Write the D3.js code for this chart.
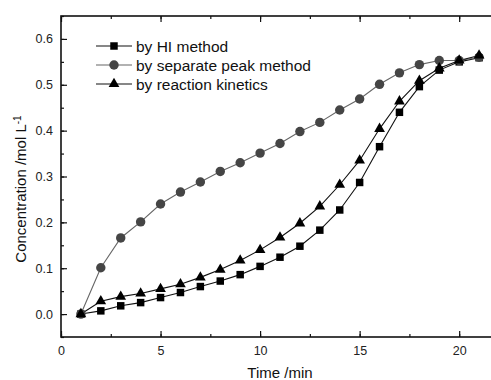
<!DOCTYPE html>
<html>
<head>
<meta charset="utf-8">
<script src="https://cdn.jsdelivr.net/npm/d3@7"></script>
<style>
  body { margin: 0; background: #fff; }
  svg { display: block; font-family: Arial, "Liberation Sans", sans-serif; }
</style>
</head>
<body>
<svg class="chart" width="491" height="380"></svg>
<script>
// time (min)
const times = [1, 2, 3, 4, 5, 6, 7, 8, 9, 10, 11, 12, 13, 14, 15, 16, 17, 18, 19, 20, 21];
// by HI method (squares)
const hiMethod = [0, 0.007, 0.018, 0.025, 0.036, 0.047, 0.060, 0.072, 0.086, 0.104, 0.124,
                  0.148, 0.183, 0.227, 0.287, 0.365, 0.440, 0.496, 0.532, 0.550, 0.559];
// by separate peak method (circles)
const peakMethod = [0, 0.101, 0.166, 0.201, 0.240, 0.266, 0.288, 0.311, 0.330, 0.351, 0.372,
                    0.398, 0.418, 0.445, 0.469, 0.501, 0.526, 0.544, 0.553, 0.553, 0.560];
// by reaction kinetics (triangles)
const kinetics = [0, 0.028, 0.038, 0.045, 0.055, 0.065, 0.080, 0.097, 0.117, 0.140, 0.167,
                  0.198, 0.235, 0.282, 0.335, 0.404, 0.464, 0.509, 0.536, 0.553, 0.564];
const seriesNames = ["by HI method", "by separate peak method", "by reaction kinetics"];
const xTicks = [0, 5, 10, 15, 20];
const yTicks = [0.0, 0.1, 0.2, 0.3, 0.4, 0.5, 0.6];

var svg = d3.select(".chart");
let plotLeft = 61, plotRight = 499, plotTop = 16, plotBottom = 337;

var xScale = d3.scaleLinear().domain([0, 22]).range([plotLeft, plotRight]);
var yScale = d3.scaleLinear().domain([-0.05, 0.65]).range([plotBottom, plotTop]);

// minor ticks
let xMinor = d3.range(0, 22.01, 2.5);
let yMinor = d3.range(-0.05, 0.651, 0.05);

function styleAxis(g) {
  g.select(".domain").remove();
  g.selectAll("line").attr("stroke", "#111").attr("stroke-width", 1.2);
  g.selectAll("text").attr("fill", "#222").style("font-size", "12.5px");
}

svg.append("g").attr("transform", `translate(0,${plotBottom})`)
   .call(d3.axisBottom(xScale).tickValues(xMinor).tickSize(-3).tickFormat(""))
   .call(styleAxis);
svg.append("g").attr("transform", `translate(0,${plotBottom})`)
   .call(d3.axisBottom(xScale).tickValues(xTicks).tickSize(-6).tickPadding(9).tickFormat(d3.format("d")))
   .call(styleAxis);
svg.append("g").attr("transform", `translate(0,${plotTop})`)
   .call(d3.axisTop(xScale).tickValues(xMinor).tickSize(-3).tickFormat(""))
   .call(styleAxis);
svg.append("g").attr("transform", `translate(0,${plotTop})`)
   .call(d3.axisTop(xScale).tickValues(xTicks).tickSize(-6).tickFormat(""))
   .call(styleAxis);
svg.append("g").attr("transform", `translate(${plotLeft},0)`)
   .call(d3.axisLeft(yScale).tickValues(yMinor).tickSize(-3).tickFormat(""))
   .call(styleAxis);
svg.append("g").attr("transform", `translate(${plotLeft},0)`)
   .call(d3.axisLeft(yScale).tickValues(yTicks).tickSize(-6).tickPadding(8).tickFormat(d3.format(".1f")))
   .call(styleAxis);

// frame
svg.append("rect")
   .attr("x", plotLeft).attr("y", plotTop)
   .attr("width", plotRight - plotLeft).attr("height", plotBottom - plotTop)
   .attr("fill", "none").attr("stroke", "#111").attr("stroke-width", 1.6);

let line = d3.line().x((d, i) => xScale(times[i])).y(d => yScale(d));

let series = [
  { name: seriesNames[0], values: hiMethod, color: "#000", lineColor: "#111", shape: "square" },
  { name: seriesNames[1], values: peakMethod, color: "#454545", lineColor: "#666", shape: "circle" },
  { name: seriesNames[2], values: kinetics, color: "#000", lineColor: "#111", shape: "triangle" }
];

let symbolOf = {
  square: d3.symbol().type(d3.symbolSquare).size(56),
  circle: d3.symbol().type(d3.symbolCircle).size(70),
  triangle: d3.symbol().type(d3.symbolTriangle).size(50)
};

function drawMarker(g, s, x, y) {
  g.append("path")
   .attr("d", symbolOf[s.shape]())
   .attr("transform", `translate(${x},${y})`)
   .attr("fill", s.color);
}

for (let s of series) {
  svg.append("path")
     .datum(s.values)
     .attr("fill", "none")
     .attr("stroke", s.lineColor)
     .attr("stroke-width", 1.1)
     .attr("d", line);
}
for (let s of series) {
  let g = svg.append("g");
  s.values.forEach((v, i) => drawMarker(g, s, xScale(times[i]), yScale(v)));
}

// legend
let legend = svg.append("g");
series.forEach((s, i) => {
  let y = 46 + i * 19;
  legend.append("line")
        .attr("x1", 96).attr("x2", 132)
        .attr("y1", y).attr("y2", y)
        .attr("stroke", s.lineColor).attr("stroke-width", 1.1);
  drawMarker(legend, s, 114, y);
  legend.append("text")
        .attr("x", 136).attr("y", y + 5.5)
        .style("font-size", "15.5px")
        .attr("fill", "#111")
        .text(s.name);
});

// axis labels
svg.append("text")
   .attr("x", 280).attr("y", 378)
   .attr("text-anchor", "middle")
   .style("font-size", "15px")
   .attr("fill", "#111")
   .text("Time /min");

let yLabel = svg.append("text")
   .attr("transform", "translate(26,189) rotate(-90)")
   .attr("text-anchor", "middle")
   .style("font-size", "15px")
   .attr("fill", "#111");
yLabel.append("tspan").text("Concentration /mol L");
yLabel.append("tspan").attr("dy", "-0.5em").style("font-size", "10px").text("-1");
</script>
</body>
</html>
